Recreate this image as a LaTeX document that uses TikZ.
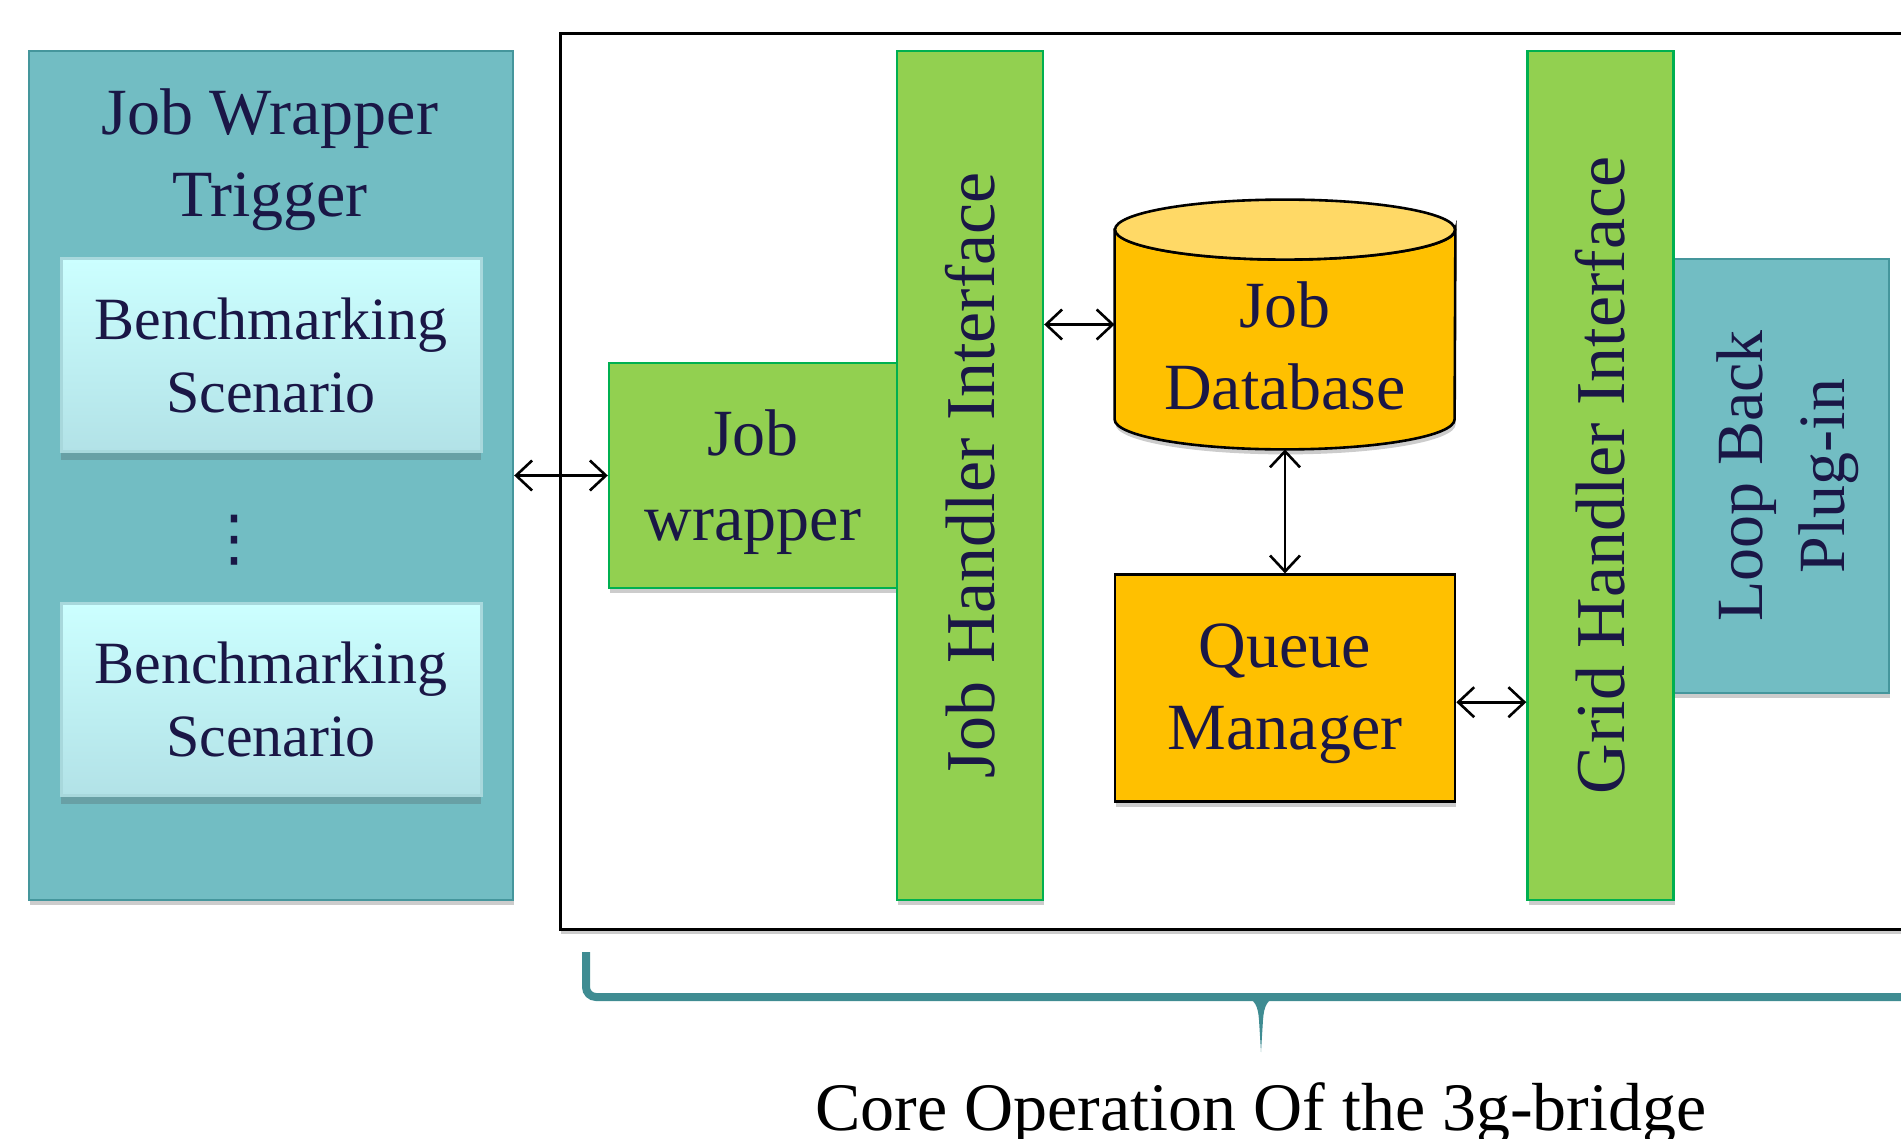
\documentclass[tikz,border=0pt]{standalone}
\usepackage{fontspec}
\setmainfont{Liberation Serif}
\newfontfamily\symfont{DejaVu Sans}
\usetikzlibrary{arrows.meta, positioning, shadows}
\definecolor{tealfill}{HTML}{72BDC3}
\definecolor{tealline}{HTML}{45969C}
\definecolor{benchtop}{HTML}{CCFFFF}
\definecolor{benchbot}{HTML}{B2E2E7}
\definecolor{benchline}{HTML}{A8D8DC}
\definecolor{greenfill}{HTML}{92D050}
\definecolor{greenline}{HTML}{00B050}
\definecolor{dborange}{HTML}{FFC000}
\definecolor{dbtopcol}{HTML}{FFD966}
\definecolor{bracecol}{HTML}{3F8C92}
\definecolor{navy}{HTML}{1A1746}
\newcommand\boxfont{\fontsize{33}{41}\selectfont}
\newcommand\barfont{\fontsize{35}{41}\selectfont}
\newcommand\benchfont{\fontsize{30}{36.5}\selectfont}
\tikzset{
  softshadow/.style={
    drop shadow={shadow xshift=0.5pt, shadow yshift=-2.5pt, fill=black, opacity=0.2}
  },
  corebox/.style={
    rectangle,
    draw=black,
    fill=white,
    line width=1.5pt,
    minimum width=695pt,
    minimum height=447.5pt,
    softshadow
  },
  trigbox/.style={
    rectangle,
    draw=tealline,
    fill=tealfill,
    line width=1.2pt,
    inner sep=0pt,
    minimum width=242pt,
    minimum height=424.5pt,
    softshadow
  },
  boxtext/.style={font=\boxfont, text=navy, align=center},
  benchbox/.style={
    rectangle,
    draw=benchline,
    line width=1.5pt,
    top color=benchtop,
    bottom color=benchbot,
    minimum width=210pt,
    minimum height=96pt,
    align=center,
    font=\benchfont,
    text=navy,
    drop shadow={shadow xshift=0pt, shadow yshift=-4.5pt, fill=black!70, opacity=0.25}
  },
  greenbox/.style={
    rectangle,
    draw=greenline,
    fill=greenfill,
    line width=1.2pt,
    inner sep=0pt,
    boxtext,
    softshadow
  },
  wrapbox/.style={greenbox, minimum width=144pt, minimum height=112.5pt,
    font={\fontsize{33}{42.5}\selectfont}, text depth=0pt},
  vbar/.style={greenbox, rotate=90, minimum width=424.5pt, minimum height=73pt, font=\barfont},
  queuebox/.style={
    rectangle,
    draw=black,
    fill=dborange,
    line width=1.3pt,
    minimum width=170pt,
    minimum height=113.5pt,
    boxtext,
    softshadow
  },
  dbnode/.style={rectangle, inner sep=0pt, minimum width=170pt, minimum height=124.5pt},
  dbbody/.style={draw=black, fill=dborange, line width=1.3pt, softshadow},
  dbtop/.style={draw=black, fill=dbtopcol, line width=1.3pt},
  loopbox/.style={
    rectangle,
    draw=tealline,
    fill=tealfill,
    line width=1.2pt,
    rotate=90,
    minimum width=217pt,
    minimum height=108pt,
    boxtext,
    text depth=0pt,
    softshadow
  },
  biarrow/.style={{Straight Barb[length=8pt, width=15pt]}-{Straight Barb[length=8pt, width=15pt]}, line width=1.3pt},
  brace/.style={draw=bracecol, line width=4pt},
  caption/.style={font={\fontsize{34}{41}\selectfont}, text=black, anchor=base}
}

\begin{document}
\begin{tikzpicture}[x=0.5pt, y=-0.5pt, node distance=62pt]
\useasboundingbox (0,0) rectangle (1901,1139);
\clip (0,0) rectangle (1901,1139);

% core frame, runs off the right edge
\node[corebox] (core) at (1255,481.5) {};

% left block
\node[trigbox] (trigger) at (271,475.5) {};
\node[boxtext] (trigtitle) at (270,160) {Job Wrapper\\Trigger};
\node[benchbox] (bench1) at (271,355) {Benchmarking\\Scenario};
\node[benchbox, below=74.5pt of bench1] (bench2) {Benchmarking\\Scenario};
\node[text=navy, inner sep=0pt, font={\symfont\fontsize{31}{31}\selectfont}] (moredots) at (234,540) {⋮};

% core
\node[wrapbox] (wrapper) at (753,475.5) {Job\\wrapper};
\node[vbar] (jhi) at (970,475.5) {Job Handler Interface};
\node[dbnode] (db) at (1285,324.5) {};
\draw[dbbody] ([yshift=-15pt]db.north west) -- ([yshift=15pt]db.south west)
  arc[start angle=180, end angle=360, x radius=85pt, y radius=15pt]
  -- ([yshift=-15pt]db.north east)
  arc[start angle=0, end angle=-180, x radius=85pt, y radius=15pt] -- cycle;
\draw[dbtop] ([yshift=-15pt]db.north) ellipse[x radius=85pt, y radius=15pt];
\node[boxtext] (dblabel) at (1285,346) {Job\\Database};
\node[queuebox, below=of db, text depth=2pt] (queue) {Queue\\Manager};
\node[loopbox] (loop) at (1781,476) {Loop Back\\Plug-in};
\node[vbar] (ghi) at (1600.5,475.5) {Grid Handler Interface};

\draw[biarrow] (trigger.east) -- (wrapper.west);
\draw[biarrow] (db.west -| jhi.south) -- (db.west);
\draw[biarrow] (db.south) -- (queue.north);
\draw[biarrow] ([yshift=-7pt]queue.east) -- ([yshift=-7pt]queue.east -| ghi.north);

% brace and caption
\draw[brace, rounded corners=5pt] (586,952) -- (586,997) -- (1960,997);
\fill[bracecol] (1244,997) .. controls (1255,999) and (1258,1006) .. (1259,1020)
  -- (1261,1052) -- (1263,1020) .. controls (1264,1006) and (1267,999) .. (1278,997) -- cycle;
\node[caption] (coretitle) at (1261,1130) {Core Operation Of the 3g-bridge};
\end{tikzpicture}
\end{document}
